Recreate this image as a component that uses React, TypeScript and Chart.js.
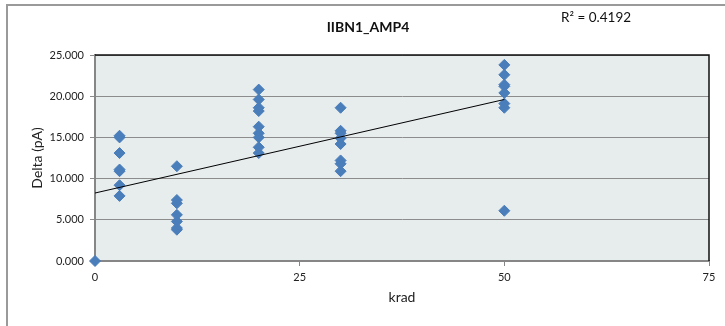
import React, { useEffect, useRef } from "react";
import { Chart, registerables } from "chart.js";

Chart.register(...registerables);

const FONT = "Lato, 'Liberation Sans', sans-serif";

const chartTitle = "IIBN1_AMP4";
const rSquaredLabel = "R² = 0.4192";
const xAxisTitle = "krad";
const yAxisTitle = "Delta (pA)";

// measured values per dose (krad)
const dose0 = [0];
const dose3 = [15.2, 15.0, 13.1, 11.1, 10.9, 9.2, 7.9];
const dose10 = [11.5, 7.4, 7.0, 5.6, 4.8, 4.0, 3.8];
const dose20 = [20.8, 19.6, 18.6, 18.2, 16.3, 15.5, 15.0, 13.8, 13.1];
const dose30 = [18.6, 15.8, 15.5, 14.9, 14.2, 12.2, 11.8, 10.9];
const dose50 = [23.8, 22.6, 21.4, 21.2, 20.4, 19.1, 18.6, 6.1];

const doseGroups: [number, number[]][] = [
  [0, dose0],
  [3, dose3],
  [10, dose10],
  [20, dose20],
  [30, dose30],
  [50, dose50],
];

// linear trendline end points
const trendX = [0, 50];
const trendY = [8.25, 19.6];

const xTicksMax = 75;
const yTicksMax = 25;

const decorPlugin = {
  id: "decor",
  beforeDraw(chart: any) {
    const { ctx, chartArea } = chart;
    ctx.save();
    ctx.fillStyle = "#ffffff";
    ctx.fillRect(0, 0, chart.width, chart.height);
    // outer frame (top + left)
    ctx.strokeStyle = "#9a9a9a";
    ctx.lineWidth = 2;
    ctx.beginPath();
    ctx.moveTo(7, chart.height);
    ctx.lineTo(7, 5);
    ctx.lineTo(chart.width, 5);
    ctx.stroke();
    // plot background
    ctx.fillStyle = "#e7ecec";
    ctx.fillRect(
      chartArea.left,
      chartArea.top,
      chartArea.right - chartArea.left,
      chartArea.bottom - chartArea.top
    );
    // title texts
    ctx.fillStyle = "#111";
    ctx.textAlign = "center";
    ctx.textBaseline = "middle";
    ctx.font = `bold 14px ${FONT}`;
    ctx.fillText(chartTitle, 368, 27);
    ctx.textAlign = "left";
    ctx.font = `13.5px ${FONT}`;
    ctx.fillText(rSquaredLabel, 561, 18);
    ctx.restore();
  },
  afterDraw(chart: any) {
    const { ctx, chartArea } = chart;
    ctx.save();
    ctx.strokeStyle = "#111";
    ctx.lineWidth = 1.5;
    ctx.beginPath();
    ctx.moveTo(chartArea.left, chartArea.top);
    ctx.lineTo(chartArea.right, chartArea.top);
    ctx.lineTo(chartArea.right, chartArea.bottom);
    ctx.stroke();
    ctx.restore();
  },
};

export default function App() {
  const canvasRef = useRef<HTMLCanvasElement | null>(null);

  useEffect(() => {
    if (!canvasRef.current) return;
    const points: { x: number; y: number }[] = [];
    doseGroups.forEach(([x, ys]) => ys.forEach((y) => points.push({ x, y })));
    const trend = trendX.map((x, i) => ({ x, y: trendY[i] }));

    const chart = new Chart(canvasRef.current, {
      type: "scatter",
      data: {
        datasets: [
          {
            label: "Linear trend",
            data: trend,
            showLine: true,
            borderColor: "#000",
            borderWidth: 1,
            pointRadius: 0,
            fill: false,
          } as any,
          {
            label: "Delta",
            data: points,
            pointStyle: "rectRot",
            pointRadius: 5.5,
            pointBorderWidth: 1,
            backgroundColor: "#4a7ebb",
            borderColor: "#4a7ebb",
            clip: false,
          } as any,
        ],
      },
      options: {
        animation: false,
        responsive: true,
        maintainAspectRatio: false,
        layout: { padding: { top: 55, right: 16, left: 0, bottom: 0 } },
        plugins: {
          legend: { display: false },
          tooltip: { enabled: false },
          title: { display: false },
        },
        scales: {
          x: {
            type: "linear",
            min: 0,
            max: xTicksMax,
            ticks: {
              stepSize: 25,
              padding: 5,
              color: "#222",
              font: { family: FONT, size: 11 },
              maxRotation: 0,
            },
            grid: {
              drawOnChartArea: false,
              drawTicks: true,
              tickLength: 5,
              color: "#868686",
            },
            border: { color: "#868686", width: 2 },
            title: {
              display: true,
              text: xAxisTitle,
              color: "#222",
              font: { family: FONT, size: 14 },
              padding: { top: 0, bottom: 20 },
            },
            afterFit: (s: any) => {
              s.height = 65;
            },
          },
          y: {
            type: "linear",
            min: 0,
            max: yTicksMax,
            ticks: {
              stepSize: 5,
              padding: 6,
              color: "#222",
              font: { family: FONT, size: 11 },
              callback: (v: any) => Number(v).toFixed(3),
            },
            grid: {
              color: "#8c8c8c",
              lineWidth: 1,
              tickLength: 5,
            },
            border: { color: "#868686", width: 2 },
            title: {
              display: true,
              text: yAxisTitle,
              color: "#222",
              font: { family: FONT, size: 14 },
              padding: { top: 29, bottom: 0 },
            },
            afterFit: (s: any) => {
              s.width = 95;
            },
          },
        },
      },
      plugins: [decorPlugin],
    });
    return () => chart.destroy();
  }, []);

  return (
    <div style={{ position: "absolute", left: 0, top: 0, width: 725, height: 326 }}>
      <canvas ref={canvasRef} />
    </div>
  );
}
